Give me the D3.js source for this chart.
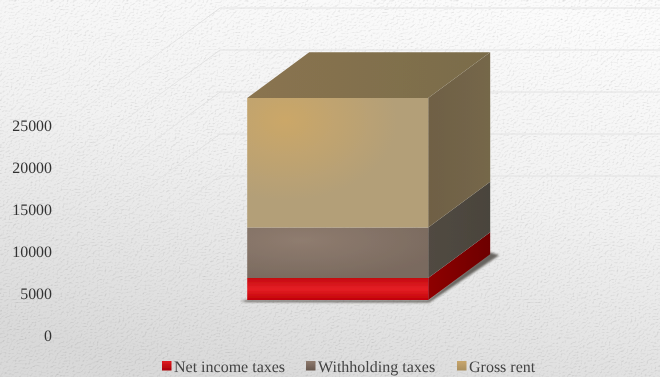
<!DOCTYPE html>
<html>
<head>
<meta charset="utf-8">
<script src="https://cdn.jsdelivr.net/npm/d3@7/dist/d3.min.js"></script>
<style>
  html, body { margin: 0; padding: 0; background: #e6e6e6; }
  svg { display: block; }
  text { font-family: "Liberation Serif", "Times New Roman", serif; text-rendering: geometricPrecision; }
</style>
</head>
<body>
<svg id="chart" width="660" height="377"></svg>
<script>
// Stacked 3D column: income components for one category
const categories = ["Total"];
const seriesNames = ["Net income taxes", "Withholding taxes", "Gross rent"];
const seriesValues = [2620, 6010, 15420];
const tickValues = [0, 5000, 10000, 15000, 20000, 25000];

const W = 660, H = 377;
const svg = d3.select("#chart");
const defs = svg.append("defs");

// Value scale on the back wall; depth scale moves a point towards the viewer
const yBack = d3.scaleLinear().domain([0, 25000]).range([218, 8]);
const depthY = d3.scaleLinear().domain([0, 1]).range([0, 117.2]);
const depthX = d3.scaleLinear().domain([0, 1]).range([0, -159]);
const xBand = d3.scaleBand().domain(categories).range([220, 678]).paddingInner(0).paddingOuter(0.5 * (458 - 181) / 181);
const depthFront = 0.70, depthRear = 0.31;

const project = (x, v, t) => [x + depthX(t), yBack(v) + depthY(t)];
const yFront = d3.scaleLinear().domain(yBack.domain()).range(yBack.range().map(r => r + depthY(1)));

// Paper-like backdrop
const bg = defs.append("linearGradient").attr("id", "bg").attr("x1", 0.7).attr("y1", 0).attr("x2", 0.35).attr("y2", 1);
bg.append("stop").attr("offset", 0).attr("stop-color", "#fbfbfb");
bg.append("stop").attr("offset", 0.45).attr("stop-color", "#f1f1f1");
bg.append("stop").attr("offset", 1).attr("stop-color", "#d9d9d9");

const grain = defs.append("filter").attr("id", "grain").attr("x", 0).attr("y", 0).attr("width", 1).attr("height", 1)
  .attr("color-interpolation-filters", "sRGB");
grain.append("feTurbulence").attr("type", "fractalNoise").attr("baseFrequency", "0.5 0.7").attr("numOctaves", 2).attr("seed", 7).attr("result", "n");
const light = grain.append("feDiffuseLighting").attr("in", "n").attr("surfaceScale", 0.38).attr("diffuseConstant", 1.135).attr("lighting-color", "#ffffff").attr("result", "l");
light.append("feDistantLight").attr("azimuth", 60).attr("elevation", 62);
grain.append("feBlend").attr("in", "SourceGraphic").attr("in2", "l").attr("mode", "multiply");

svg.append("rect").attr("width", W).attr("height", H).attr("fill", "url(#bg)").attr("filter", "url(#grain)");

const blur = defs.append("filter").attr("id", "soft").attr("x", "-20%").attr("y", "-20%").attr("width", "140%").attr("height", "140%");
blur.append("feGaussianBlur").attr("stdDeviation", 1);
const faceSoft = defs.append("filter").attr("id", "edge").attr("x", "-5%").attr("y", "-5%").attr("width", "110%").attr("height", "110%");
faceSoft.append("feGaussianBlur").attr("stdDeviation", 0.45);
const textSoft = defs.append("filter").attr("id", "textSoft").attr("x", "-5%").attr("y", "-20%").attr("width", "110%").attr("height", "140%");
textSoft.append("feGaussianBlur").attr("stdDeviation", 0.25);

// Wall and floor gridlines, with the floor-side run fading towards the viewer
const fade = defs.append("linearGradient").attr("id", "fade").attr("gradientUnits", "userSpaceOnUse")
  .attr("x1", 220).attr("y1", 0).attr("x2", 70).attr("y2", 0);
fade.append("stop").attr("offset", 0).attr("stop-color", "#e0e0e0");
fade.append("stop").attr("offset", 1).attr("stop-color", "#e0e0e0").attr("stop-opacity", 0.25);

const gridGroup = svg.append("g").attr("fill", "none").attr("stroke-width", 1);
tickValues.slice(1).forEach(v => {
  const a = project(xBand.range()[0], v, 0);
  const b = project(xBand.range()[1], v, 0);
  const c = project(xBand.range()[0], v, 0.95);
  gridGroup.append("path").attr("d", d3.line()([a, b])).attr("stroke", "#e2e2e2");
  gridGroup.append("path").attr("d", d3.line()([c, a])).attr("stroke", "url(#fade)");
});

// Face shading for each series
const palette = [
  { front: ["#c40a10", "#e51f25", "#c00006"], side: ["#8f0006", "#6d0000"], swatch: ["#e01a20", "#a80004"] },
  { front: ["#8a7468", "#8f7b6e", "#726258"], side: ["#514a42", "#4a443c"], swatch: ["#8f7b6e", "#66564d"] },
  { front: ["#c8a66c", "#b39f78", "#ab9872"], side: ["#6f6045", "#75674a"], top: ["#8a7450", "#7a6c4a"], swatch: ["#c8a66c", "#a98f5f"] }
];

const gradient = (id, stops, vertical) => {
  const g = defs.append("linearGradient").attr("id", id)
    .attr("x1", 0).attr("y1", 0).attr("x2", vertical ? 0 : 1).attr("y2", vertical ? 1 : 0);
  stops.forEach((c, i) => g.append("stop").attr("offset", i / (stops.length - 1)).attr("stop-color", c));
};
palette.forEach((p, i) => {
  gradient("front" + i, p.front, i === 0);
  gradient("side" + i, p.side, false);
  gradient("swatch" + i, p.swatch, true);
  if (p.top) gradient("top" + i, p.top, false);
});
const glow = defs.append("radialGradient").attr("id", "glow").attr("cx", 0.21).attr("cy", 0.17).attr("r", 0.62);
glow.append("stop").attr("offset", 0).attr("stop-color", "#cba768");
glow.append("stop").attr("offset", 1).attr("stop-color", "#b39f78");
const glowMid = defs.append("radialGradient").attr("id", "glowMid").attr("cx", 0.3).attr("cy", 0.25).attr("r", 0.8);
glowMid.append("stop").attr("offset", 0).attr("stop-color", "#8f7c6f");
glowMid.append("stop").attr("offset", 1).attr("stop-color", "#7a6a5f");

// Stack the series from zero
const stackData = [Object.fromEntries(seriesNames.map((n, i) => [n, seriesValues[i]]))];
const stacked = d3.stack().keys(seriesNames)(stackData);

const cat = categories[0];
const x0 = xBand(cat), x1 = x0 + xBand.bandwidth();
const poly = pts => d3.line()(pts) + "Z";

// Contact shadow below the column
const totalBase = [project(x0, 0, depthFront), project(x1, 0, depthFront), project(x1, 0, depthRear)];
svg.append("path")
  .attr("d", poly([
    [totalBase[0][0] - 7, totalBase[0][1] + 1],
    [totalBase[0][0], totalBase[0][1] + 2],
    [totalBase[1][0] + 1, totalBase[1][1] + 2.5],
    [totalBase[2][0] + 9, totalBase[2][1] + 1],
    [totalBase[2][0], totalBase[2][1] - 2],
    totalBase[1],
    totalBase[0]
  ]))
  .attr("fill", "#5a5751").attr("opacity", 0.9).attr("filter", "url(#soft)");

const bars = svg.append("g").attr("filter", "url(#edge)");
stacked.forEach((layer, i) => {
  const [lo, hi] = layer[0];
  bars.append("path")
    .attr("d", poly([project(x1, lo, depthFront), project(x1, lo, depthRear), project(x1, hi, depthRear), project(x1, hi, depthFront)]))
    .attr("fill", `url(#side${i})`);
  bars.append("path")
    .attr("d", poly([project(x0, lo, depthFront), project(x1, lo, depthFront), project(x1, hi, depthFront), project(x0, hi, depthFront)]))
    .attr("fill", i === 2 ? "url(#glow)" : i === 1 ? "url(#glowMid)" : `url(#front${i})`);
  if (i === stacked.length - 1) {
    bars.append("path")
      .attr("d", poly([project(x0, hi, depthFront), project(x1, hi, depthFront), project(x1, hi, depthRear), project(x0, hi, depthRear)]))
      .attr("fill", `url(#top${i})`);
  }
});

// Value axis labels sit along the front edge of the side wall
const axis = d3.axisLeft(yFront).tickValues(tickValues).tickSize(0).tickPadding(0).tickFormat(d3.format("d"));
const axisG = svg.append("g").attr("transform", "translate(52,0)").attr("filter", "url(#textSoft)").call(axis);
axisG.select(".domain").remove();
axisG.selectAll("text").attr("fill", "#333333").style("font-family", '"Liberation Serif", serif').style("font-size", "15.9px");

// Legend
const legendX = d3.scaleOrdinal().domain(seriesNames).range([162, 306, 457]);
const legend = svg.append("g").attr("filter", "url(#textSoft)").selectAll("g").data(seriesNames).join("g")
  .attr("transform", d => `translate(${legendX(d)},361)`);
legend.append("rect").attr("width", 9.5).attr("height", 9.5).attr("fill", (d, i) => `url(#swatch${i})`);
legend.append("text").attr("x", 12).attr("y", 10.5).attr("fill", "#444444").style("font-size", "16px").text(d => d);
</script>
</body>
</html>
